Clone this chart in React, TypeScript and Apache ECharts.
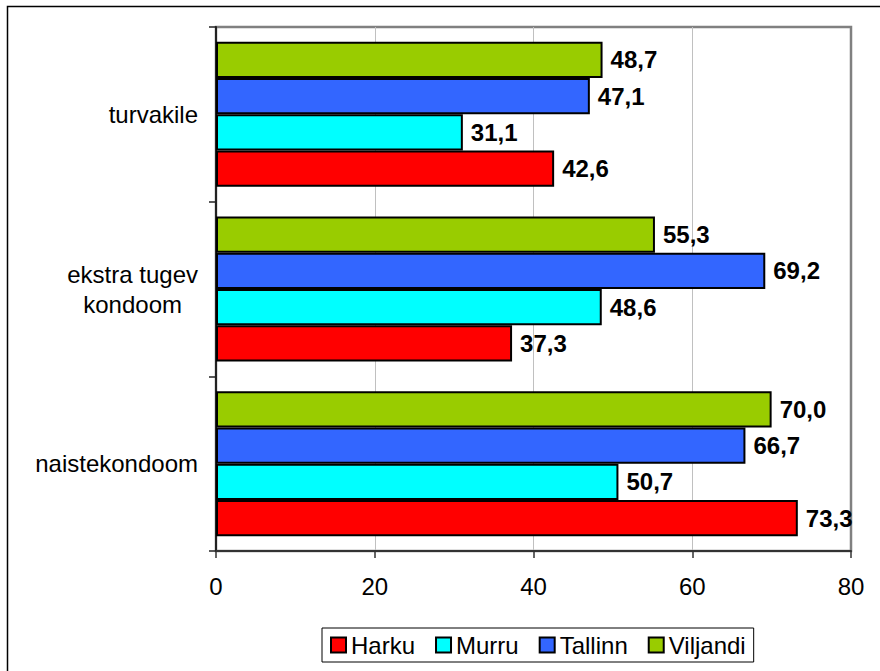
import React, { useEffect, useRef } from "react";
import * as echarts from "echarts";

const categories = ["naistekondoom", "ekstra tugev kondoom", "turvakile"];
const seriesNames = ["Harku", "Murru", "Tallinn", "Viljandi"];
const harku = [73.3, 37.3, 42.6];
const murru = [50.7, 48.6, 31.1];
const tallinn = [66.7, 69.2, 47.1];
const viljandi = [70.0, 55.3, 48.7];
const colors = ["#FF0000", "#00FFFF", "#3366FF", "#99CC00"];
const xTicks = [0, 20, 40, 60, 80];

const FONT = 'Arial, "Liberation Sans", sans-serif';

export default function App() {
  const ref = useRef<HTMLDivElement>(null);
  useEffect(() => {
    if (!ref.current) return;
    const chart = echarts.init(ref.current, null, { renderer: "svg" });
    const values = [harku, murru, tallinn, viljandi];
    const order = [3, 2, 1, 0];
    chart.setOption({
      animation: false,
      backgroundColor: "#ffffff",
      textStyle: { fontFamily: FONT },
      graphic: [
        {
          type: "rect",
          shape: { x: 7.5, y: 6.5, width: 1000, height: 1000 },
          style: { fill: "none", stroke: "#000", lineWidth: 1.5 },
          silent: true,
          z: -10,
        },
      ],
      grid: {
        left: 216,
        right: 29,
        top: 27,
        bottom: 120,
        show: true,
        borderColor: "#808080",
        borderWidth: 2.5,
        backgroundColor: "transparent",
      },
      legend: {
        data: seriesNames,
        left: 322,
        top: 628,
        padding: [5, 8],
        borderColor: "#000",
        borderWidth: 1,
        itemWidth: 15,
        itemHeight: 15,
        itemGap: 20,
        icon: "rect",
        textStyle: { fontSize: 24, color: "#000", fontFamily: FONT },
      },
      xAxis: {
        type: "value",
        min: xTicks[0],
        max: xTicks[xTicks.length - 1],
        interval: 20,
        axisLine: { show: true, lineStyle: { color: "#333", width: 2 } },
        axisTick: { show: true, length: 7, lineStyle: { color: "#333", width: 1.5 } },
        axisLabel: { fontSize: 24, color: "#000", margin: 23, fontFamily: FONT },
        splitLine: {
          show: true,
          showMinLine: false,
          showMaxLine: false,
          lineStyle: { color: "#c0c0c0", width: 1 },
        },
      },
      yAxis: {
        type: "category",
        data: categories,
        axisLine: { show: true, lineStyle: { color: "#222", width: 2 } },
        axisTick: { show: true, length: 7, lineStyle: { color: "#222", width: 1.5 } },
        axisLabel: {
          fontSize: 24,
          color: "#000",
          margin: 18,
          fontFamily: FONT,
          lineHeight: 29,
          formatter: (v: string) =>
            v === "ekstra tugev kondoom" ? "{a|ekstra tugev}\n{a|kondoom}" : v,
          rich: {
            a: { align: "center", fontSize: 24, lineHeight: 30, color: "#000", fontFamily: FONT },
          },
        },
        splitLine: { show: false },
      },
      series: order.map((i) => ({
        name: seriesNames[i],
        type: "bar",
        data: values[i],
        barGap: "0%",
        barCategoryGap: "17%",
        itemStyle: { color: colors[i], borderColor: "#000", borderWidth: 2 },
        label: {
          show: true,
          position: "right",
          distance: 8,
          fontSize: 24,
          fontWeight: "bold",
          color: "#000",
          fontFamily: FONT,
          formatter: (p: any) => Number(p.value).toFixed(1).replace(".", ","),
        },
      })),
    });
    return () => chart.dispose();
  }, []);
  return (
    <div
      ref={ref}
      style={{ position: "fixed", left: 0, top: 0, width: 880, height: 671 }}
    />
  );
}
